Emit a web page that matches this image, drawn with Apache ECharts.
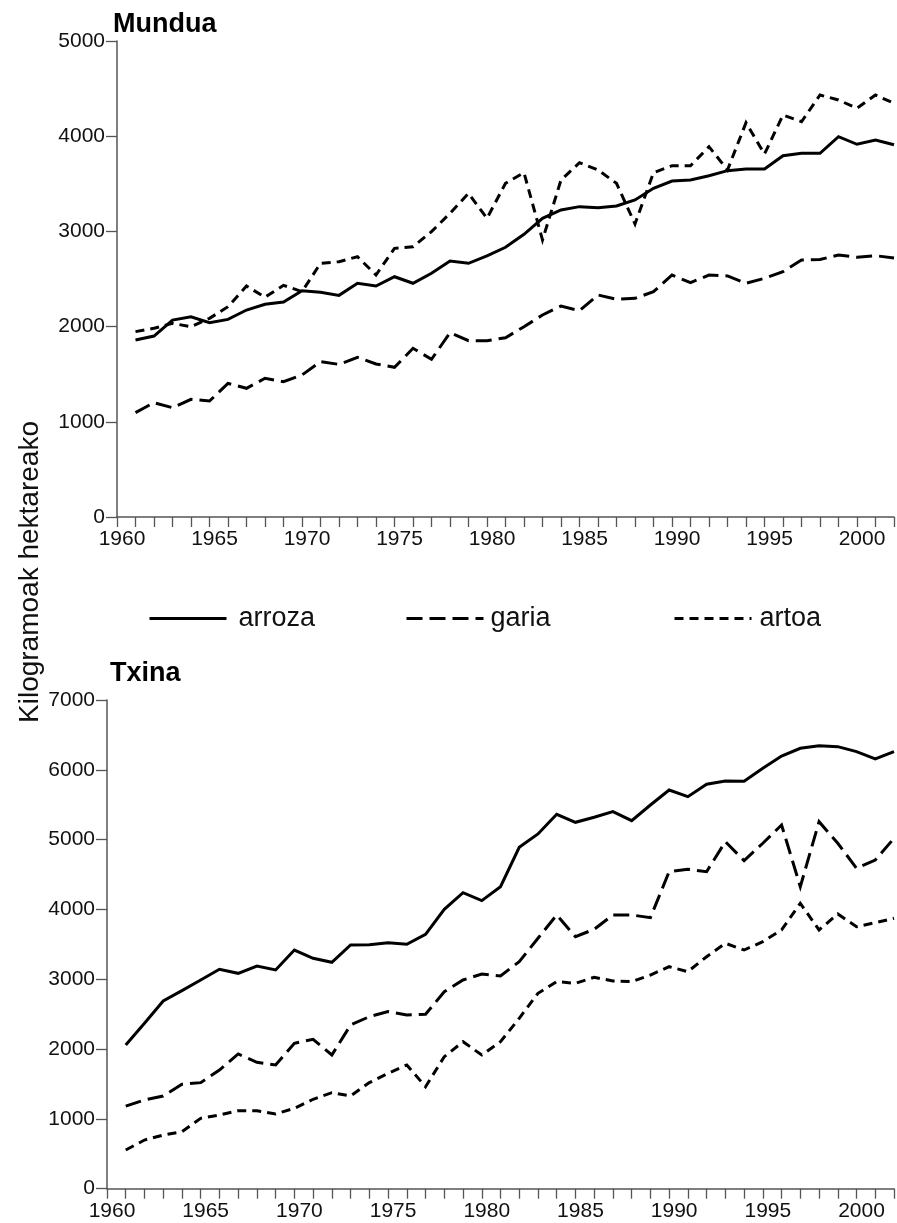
<!DOCTYPE html>
<html>
<head>
<meta charset="utf-8">
<script src="https://cdn.jsdelivr.net/npm/echarts@6/dist/echarts.min.js"></script>
<style>
  html, body { margin: 0; padding: 0; background: #fff; }
  #chart { width: 897px; height: 1223px; }
</style>
</head>
<body>
<div id="chart"></div>
<script>
// Cereal yields, kg per hectare, 1961–2002
const years = [1961, 1962, 1963, 1964, 1965, 1966, 1967, 1968, 1969, 1970,
               1971, 1972, 1973, 1974, 1975, 1976, 1977, 1978, 1979, 1980,
               1981, 1982, 1983, 1984, 1985, 1986, 1987, 1988, 1989, 1990,
               1991, 1992, 1993, 1994, 1995, 1996, 1997, 1998, 1999, 2000,
               2001, 2002];

// Mundua (world)
const munduaArroza = [1859, 1901, 2069, 2104, 2041, 2076, 2174, 2234, 2258, 2377,
                      2360, 2328, 2455, 2426, 2524, 2455, 2560, 2689, 2665, 2742,
                      2833, 2969, 3137, 3225, 3260, 3249, 3267, 3330, 3453, 3529,
                      3540, 3585, 3638, 3655, 3655, 3795, 3820, 3820, 3995, 3915,
                      3960, 3910];
const munduaGaria = [1096, 1201, 1148, 1236, 1218, 1404, 1352, 1457, 1421, 1492,
                     1631, 1603, 1677, 1607, 1572, 1772, 1656, 1936, 1852, 1852,
                     1883, 1999, 2122, 2216, 2167, 2332, 2286, 2297, 2367, 2542,
                     2461, 2542, 2532, 2455, 2507, 2577, 2700, 2705, 2752, 2728,
                     2745, 2720];
const munduaArtoa = [1947, 1982, 2034, 1999, 2087, 2209, 2426, 2308, 2434, 2367,
                     2665, 2682, 2734, 2542, 2822, 2839, 2997, 3190, 3400, 3137,
                     3505, 3617, 2910, 3540, 3722, 3645, 3505, 3078, 3617, 3690,
                     3690, 3890, 3645, 4142, 3813, 4223, 4152, 4433, 4380, 4293,
                     4433, 4345];

// Txina (China)
const txinaArroza = [2058, 2369, 2689, 2837, 2990, 3143, 3085, 3190, 3133, 3419,
                     3300, 3243, 3491, 3496, 3524, 3501, 3644, 4002, 4240, 4126,
                     4326, 4890, 5081, 5363, 5248, 5320, 5401, 5272, 5496, 5711,
                     5615, 5793, 5840, 5835, 6022, 6198, 6308, 6346, 6332, 6260,
                     6155, 6260];
const txinaGaria = [1183, 1271, 1328, 1495, 1519, 1700, 1930, 1811, 1772, 2083,
                    2140, 1915, 2345, 2464, 2536, 2488, 2498, 2822, 2990, 3075,
                    3047, 3252, 3587, 3921, 3610, 3716, 3921, 3921, 3882, 4541,
                    4575, 4541, 4971, 4699, 4948, 5210, 4326, 5257, 4948, 4590,
                    4708, 5019];
const txinaArtoa = [554, 697, 769, 817, 1008, 1056, 1117, 1117, 1070, 1152,
                    1281, 1375, 1328, 1519, 1653, 1772, 1461, 1891, 2106, 1915,
                    2106, 2441, 2799, 2966, 2942, 3028, 2975, 2966, 3061, 3180,
                    3109, 3323, 3515, 3419, 3538, 3706, 4088, 3706, 3935, 3753,
                    3810, 3873];

const seriesNames = ['arroza', 'garia', 'artoa'];
const panelTitles = ['Mundua', 'Txina'];
const yAxisTitle = 'Kilogramoak hektareako';

const FONT = '"Liberation Sans", Arial, Helvetica, sans-serif';
const AXIS_GRAY = '#555';
const dashStyles = { arroza: 'solid', garia: [16, 7], artoa: [9, 6] };

const pairs = vals => years.map((y, i) => [y, vals[i]]);

function xAxis(gridIndex) {
  return {
    type: 'value', gridIndex, min: 1960, max: 2002, interval: 1,
    axisLine: { lineStyle: { color: AXIS_GRAY, width: 1.5 } },
    axisTick: { length: 10, lineStyle: { color: AXIS_GRAY, width: 1.3 } },
    splitLine: { show: false },
    axisLabel: {
      margin: 12, fontSize: 21, color: '#111', fontFamily: FONT,
      padding: [0, 0, 0, 10],
      formatter: v => (v % 5 === 0 ? String(v) : '')
    }
  };
}
function yAxis(gridIndex, max) {
  return {
    type: 'value', gridIndex, min: 0, max, interval: 1000,
    axisLine: { show: true, lineStyle: { color: AXIS_GRAY, width: 1.5 } },
    axisTick: { show: true, length: 11, lineStyle: { color: AXIS_GRAY, width: 1.3 } },
    splitLine: { show: false },
    axisLabel: { margin: 12, fontSize: 21, color: '#111', fontFamily: FONT, formatter: v => String(v) }
  };
}
function line(name, vals, idx) {
  return {
    name, type: 'line', xAxisIndex: idx, yAxisIndex: idx,
    data: pairs(vals), symbol: 'none', animation: false,
    lineStyle: { color: '#000', width: 3, type: dashStyles[name], cap: 'butt', join: 'miter' },
    itemStyle: { color: '#000' }
  };
}
function legendItem(name, left, pad) {
  return {
    data: [name], left, top: 600, itemWidth: 77, itemHeight: 20,
    selectedMode: false,
    itemStyle: { opacity: 0 },
    lineStyle: { width: 3, type: dashStyles[name], color: '#000' },
    textStyle: { fontSize: 27, color: '#111', fontFamily: FONT, padding: [0, 0, 0, pad] }
  };
}

const chart = echarts.init(document.getElementById('chart'), null, { renderer: 'canvas' });
chart.setOption({
  backgroundColor: '#fff',
  animation: false,
  title: [
    { text: panelTitles[0], left: 108, top: 6, textStyle: { fontSize: 27, fontWeight: 'bold', color: '#000', fontFamily: FONT } },
    { text: panelTitles[1], left: 105, top: 655, textStyle: { fontSize: 27, fontWeight: 'bold', color: '#000', fontFamily: FONT } }
  ],
  legend: [
    legendItem(seriesNames[0], 143, 7),
    legendItem(seriesNames[1], 400, 2),
    legendItem(seriesNames[2], 668, 3)
  ],
  grid: [
    { left: 117, top: 41, width: 784.6, height: 476 },
    { left: 107, top: 700, width: 789.6, height: 488.7 }
  ],
  xAxis: [xAxis(0), xAxis(1)],
  yAxis: [yAxis(0, 5000), yAxis(1, 7000)],
  graphic: [{
    type: 'text', x: 30, y: 572, rotation: Math.PI / 2,
    style: { text: yAxisTitle, fontSize: 28, fill: '#111', fontFamily: FONT, textAlign: 'center', textVerticalAlign: 'middle' }
  }],
  series: [
    line('arroza', munduaArroza, 0),
    line('garia', munduaGaria, 0),
    line('artoa', munduaArtoa, 0),
    line('arroza', txinaArroza, 1),
    line('garia', txinaGaria, 1),
    line('artoa', txinaArtoa, 1)
  ]
});
</script>
</body>
</html>
